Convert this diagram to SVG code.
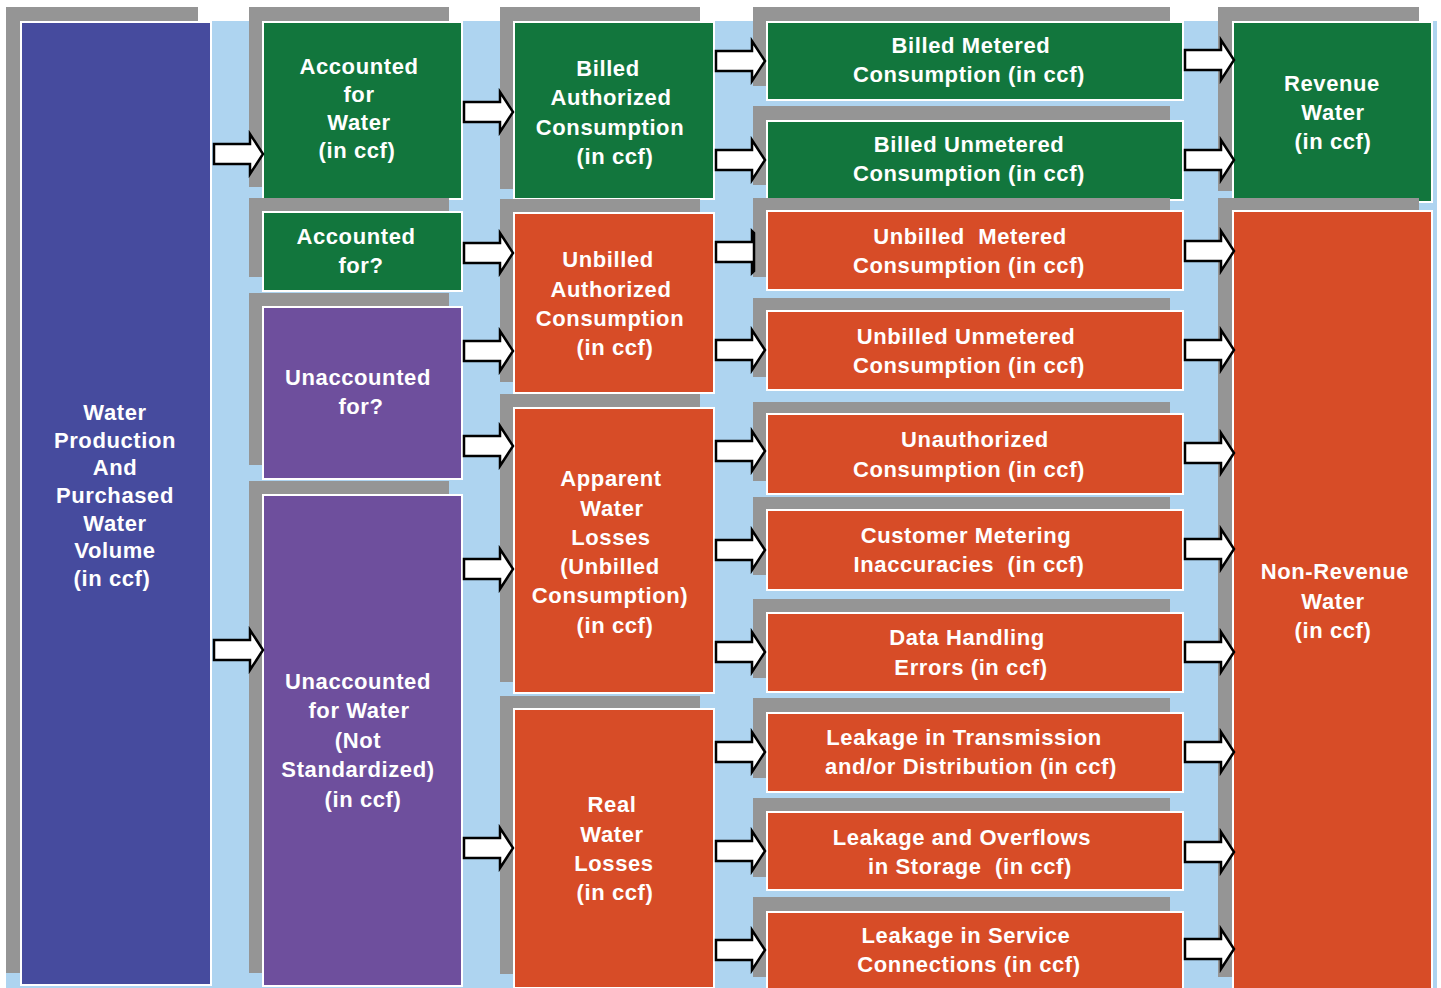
<svg xmlns="http://www.w3.org/2000/svg" xmlns:xlink="http://www.w3.org/1999/xlink" width="1441" height="988" viewBox="0 0 1441 988">
<style>
.bg{fill:#AED4F0}
.sh{fill:#959595}
.bx{stroke:#FFFFFF;stroke-width:2}
.blue{fill:#464B9E}
.green{fill:#12763D}
.red{fill:#D74C27}
.purple{fill:#6E4F9D}
.t{font-family:"Liberation Sans",Arial,sans-serif;font-weight:bold;font-size:22px;letter-spacing:0.6px;fill:#FFFFFF;text-anchor:middle}
.pre{white-space:pre}
.arr{fill:#FFFFFF;stroke:#000000;stroke-width:2.5;stroke-linejoin:miter}
</style>
<defs>
<path id="arrow" d="M-49,-10 H-13 V-20 L0,0 L-13,20 V10 H-49 Z"/>
</defs>
<rect class="bg" x="6" y="21" width="1431" height="967"/>

<g id="n-production">
<rect class="sh" x="6" y="7" width="192" height="966"/>
<rect class="bx blue" x="21" y="22" width="190" height="963"/>
<text class="t"><tspan x="115" y="420">Water</tspan><tspan x="115" y="448">Production</tspan><tspan x="115" y="475">And</tspan><tspan x="115" y="503">Purchased</tspan><tspan x="115" y="531">Water</tspan><tspan x="115" y="558">Volume</tspan><tspan x="112" y="586">(in ccf)</tspan></text>
</g>

<g id="n-accounted-water">
<rect class="sh" x="249" y="7" width="200" height="180"/>
<rect class="bx green" x="263" y="22" width="199" height="177"/>
<text class="t"><tspan x="359" y="74">Accounted</tspan><tspan x="359" y="102">for</tspan><tspan x="359" y="130">Water</tspan><tspan x="357" y="158">(in ccf)</tspan></text>
</g>
<g id="n-accounted-q">
<rect class="sh" x="249" y="198" width="200" height="79"/>
<rect class="bx green" x="263" y="212" width="199" height="79"/>
<text class="t"><tspan x="356" y="244">Accounted</tspan><tspan x="361" y="273">for?</tspan></text>
</g>
<g id="n-unaccounted-q">
<rect class="sh" x="249" y="293" width="200" height="172"/>
<rect class="bx purple" x="263" y="307" width="199" height="172"/>
<text class="t"><tspan x="358" y="385">Unaccounted</tspan><tspan x="361" y="414">for?</tspan></text>
</g>
<g id="n-unaccounted-water">
<rect class="sh" x="249" y="481" width="200" height="492"/>
<rect class="bx purple" x="263" y="495" width="199" height="491"/>
<text class="t"><tspan x="358" y="689">Unaccounted</tspan><tspan x="359" y="718">for Water</tspan><tspan x="358" y="748">(Not</tspan><tspan x="358" y="777">Standardized)</tspan><tspan x="363" y="807">(in ccf)</tspan></text>
</g>

<g id="n-billed-auth">
<rect class="sh" x="500" y="7" width="200" height="182"/>
<rect class="bx green" x="514" y="22" width="200" height="177"/>
<text class="t"><tspan x="608" y="76">Billed</tspan><tspan x="611" y="105">Authorized</tspan><tspan x="610" y="135">Consumption</tspan><tspan x="615" y="164">(in ccf)</tspan></text>
</g>
<g id="n-unbilled-auth">
<rect class="sh" x="500" y="199" width="200" height="183"/>
<rect class="bx red" x="514" y="213" width="200" height="180"/>
<text class="t"><tspan x="608" y="267">Unbilled</tspan><tspan x="611" y="297">Authorized</tspan><tspan x="610" y="326">Consumption</tspan><tspan x="615" y="355">(in ccf)</tspan></text>
</g>
<g id="n-apparent">
<rect class="sh" x="500" y="394" width="200" height="288"/>
<rect class="bx red" x="514" y="408" width="200" height="285"/>
<text class="t"><tspan x="611" y="486">Apparent</tspan><tspan x="612" y="516">Water</tspan><tspan x="611" y="545">Losses</tspan><tspan x="610" y="574">(Unbilled</tspan><tspan x="610" y="603">Consumption)</tspan><tspan x="615" y="633">(in ccf)</tspan></text>
</g>
<g id="n-real">
<rect class="sh" x="500" y="696" width="200" height="278"/>
<rect class="bx red" x="514" y="709" width="200" height="279"/>
<text class="t"><tspan x="612" y="812">Real</tspan><tspan x="612" y="842">Water</tspan><tspan x="614" y="871">Losses</tspan><tspan x="615" y="900">(in ccf)</tspan></text>
</g>

<g id="n-billed-metered">
<rect class="sh" x="753" y="7" width="417" height="79"/>
<rect class="bx green" x="767" y="22" width="416" height="78"/>
<text class="t"><tspan x="971" y="53">Billed Metered</tspan><tspan x="969" y="82">Consumption (in ccf)</tspan></text>
</g>
<g id="n-billed-unmetered">
<rect class="sh" x="753" y="106" width="417" height="79"/>
<rect class="bx green" x="767" y="121" width="416" height="79"/>
<text class="t"><tspan x="969" y="152">Billed Unmetered</tspan><tspan x="969" y="181">Consumption (in ccf)</tspan></text>
</g>
<g id="n-unbilled-metered">
<rect class="sh" x="753" y="198" width="417" height="79"/>
<rect class="bx red" x="767" y="211" width="416" height="79"/>
<text class="t pre"><tspan x="970" y="244">Unbilled  Metered</tspan><tspan x="969" y="273">Consumption (in ccf)</tspan></text>
</g>
<g id="n-unbilled-unmetered">
<rect class="sh" x="753" y="298" width="417" height="79"/>
<rect class="bx red" x="767" y="311" width="416" height="79"/>
<text class="t"><tspan x="966" y="344">Unbilled Unmetered</tspan><tspan x="969" y="373">Consumption (in ccf)</tspan></text>
</g>
<g id="n-unauthorized">
<rect class="sh" x="753" y="402" width="417" height="79"/>
<rect class="bx red" x="767" y="414" width="416" height="80"/>
<text class="t"><tspan x="975" y="447">Unauthorized</tspan><tspan x="969" y="477">Consumption (in ccf)</tspan></text>
</g>
<g id="n-metering">
<rect class="sh" x="753" y="497" width="417" height="78"/>
<rect class="bx red" x="767" y="510" width="416" height="80"/>
<text class="t pre"><tspan x="966" y="543">Customer Metering</tspan><tspan x="969" y="572">Inaccuracies  (in ccf)</tspan></text>
</g>
<g id="n-data">
<rect class="sh" x="753" y="599" width="417" height="79"/>
<rect class="bx red" x="767" y="613" width="416" height="79"/>
<text class="t"><tspan x="967" y="645">Data Handling</tspan><tspan x="971" y="675">Errors (in ccf)</tspan></text>
</g>
<g id="n-transmission">
<rect class="sh" x="753" y="698" width="417" height="80"/>
<rect class="bx red" x="767" y="713" width="416" height="79"/>
<text class="t"><tspan x="964" y="745">Leakage in Transmission</tspan><tspan x="971" y="774">and/or Distribution (in ccf)</tspan></text>
</g>
<g id="n-storage">
<rect class="sh" x="753" y="798" width="417" height="79"/>
<rect class="bx red" x="767" y="812" width="416" height="78"/>
<text class="t pre"><tspan x="962" y="845">Leakage and Overflows</tspan><tspan x="970" y="874">in Storage  (in ccf)</tspan></text>
</g>
<g id="n-service">
<rect class="sh" x="753" y="897" width="417" height="80"/>
<rect class="bx red" x="767" y="912" width="416" height="80"/>
<text class="t"><tspan x="966" y="943">Leakage in Service</tspan><tspan x="969" y="972">Connections (in ccf)</tspan></text>
</g>

<g id="n-revenue">
<rect class="sh" x="1218" y="7" width="201" height="184"/>
<rect class="bx green" x="1233" y="22" width="199" height="180"/>
<text class="t"><tspan x="1332" y="91">Revenue</tspan><tspan x="1333" y="120">Water</tspan><tspan x="1333" y="149">(in ccf)</tspan></text>
</g>
<g id="n-nonrevenue">
<rect class="sh" x="1218" y="198" width="201" height="779"/>
<rect class="bx red" x="1233" y="211" width="199" height="780"/>
<text class="t"><tspan x="1335" y="579">Non-Revenue</tspan><tspan x="1333" y="609">Water</tspan><tspan x="1333" y="638">(in ccf)</tspan></text>
</g>

<g id="connectors" class="arr">
<use href="#arrow" x="263" y="154"/>
<use href="#arrow" x="263" y="650"/>
<use href="#arrow" x="513" y="112"/>
<use href="#arrow" x="513" y="253"/>
<use href="#arrow" x="513" y="351"/>
<use href="#arrow" x="513" y="446"/>
<use href="#arrow" x="513" y="569"/>
<use href="#arrow" x="513" y="848"/>
<use href="#arrow" x="765" y="61"/>
<use href="#arrow" x="765" y="160"/>
<path d="M716,242 H752 V231 L754,233 V271 L752,273 V262 H716 Z"/>
<use href="#arrow" x="765" y="350"/>
<use href="#arrow" x="765" y="451"/>
<use href="#arrow" x="765" y="550"/>
<use href="#arrow" x="765" y="652"/>
<use href="#arrow" x="765" y="752"/>
<use href="#arrow" x="765" y="851"/>
<use href="#arrow" x="765" y="950"/>
<use href="#arrow" x="1234" y="60"/>
<use href="#arrow" x="1234" y="160"/>
<use href="#arrow" x="1234" y="251"/>
<use href="#arrow" x="1234" y="350"/>
<use href="#arrow" x="1234" y="453"/>
<use href="#arrow" x="1234" y="549"/>
<use href="#arrow" x="1234" y="652"/>
<use href="#arrow" x="1234" y="752"/>
<use href="#arrow" x="1234" y="852"/>
<use href="#arrow" x="1234" y="949"/>
</g>
</svg>
